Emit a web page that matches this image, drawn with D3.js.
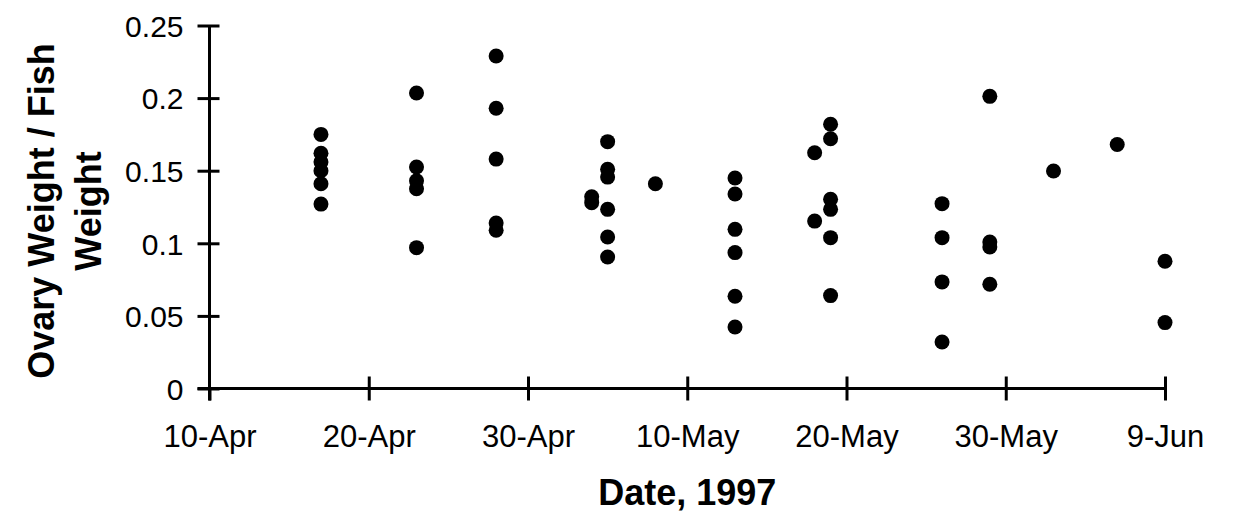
<!DOCTYPE html>
<html>
<head>
<meta charset="utf-8">
<script src="https://cdn.jsdelivr.net/npm/d3@7"></script>
<style>
  html, body { margin: 0; padding: 0; background: #fff; }
  svg { display: block; }
</style>
</head>
<body>
<svg id="chart"></svg>
<script>
// sample dates (1997) and ovary/fish weight ratios, one entry per fish
const sampleDates = [
  '1997-04-17', '1997-04-17', '1997-04-17', '1997-04-17', '1997-04-17', '1997-04-17',
  '1997-04-23', '1997-04-23', '1997-04-23', '1997-04-23', '1997-04-23',
  '1997-04-28', '1997-04-28', '1997-04-28', '1997-04-28', '1997-04-28',
  '1997-05-04', '1997-05-04',
  '1997-05-05', '1997-05-05', '1997-05-05', '1997-05-05', '1997-05-05', '1997-05-05',
  '1997-05-08',
  '1997-05-13', '1997-05-13', '1997-05-13', '1997-05-13', '1997-05-13', '1997-05-13',
  '1997-05-18', '1997-05-18',
  '1997-05-19', '1997-05-19', '1997-05-19', '1997-05-19', '1997-05-19', '1997-05-19',
  '1997-05-26', '1997-05-26', '1997-05-26', '1997-05-26',
  '1997-05-29', '1997-05-29', '1997-05-29', '1997-05-29',
  '1997-06-02',
  '1997-06-06',
  '1997-06-09', '1997-06-09'
];
const ratioValues = [
  0.175, 0.162, 0.156, 0.150, 0.141, 0.127,
  0.2035, 0.1525, 0.143, 0.1376, 0.097,
  0.229, 0.193, 0.158, 0.114, 0.109,
  0.132, 0.128,
  0.170, 0.151, 0.1456, 0.1234, 0.1043, 0.0906,
  0.141,
  0.145, 0.134, 0.1096, 0.0936, 0.0635, 0.0424,
  0.1624, 0.1153,
  0.182, 0.172, 0.1303, 0.1234, 0.1039, 0.064,
  0.1273, 0.1039, 0.0734, 0.032,
  0.2012, 0.1009, 0.0975, 0.0718,
  0.1498,
  0.168,
  0.0876, 0.0454
];
const xTickDates = ['1997-04-10', '1997-04-20', '1997-04-30', '1997-05-10', '1997-05-20', '1997-05-30', '1997-06-09'];
const yTickValues = [0, 0.05, 0.1, 0.15, 0.2, 0.25];

const parse = d3.timeParse('%Y-%m-%d');
const points = sampleDates.map((d, i) => ({ date: parse(d), value: ratioValues[i] }));
const xTicks = xTickDates.map(parse);

const W = 1236, H = 513;
const svg = d3.select('#chart').attr('width', W).attr('height', H);

const x = d3.scaleTime()
  .domain([xTicks[0], xTicks[xTicks.length - 1]])
  .range([209.5, 1165]);
const y = d3.scaleLinear().domain([0, 0.25]).range([388.5, 25.5]);

const font = 'Liberation Sans, Arial, Helvetica, sans-serif';

// y axis
const yAxisG = svg.append('g')
  .attr('transform', `translate(${x.range()[0]},0)`)
  .call(d3.axisLeft(y).tickValues(yTickValues).tickSize(12).tickPadding(0)
    .tickFormat(d => d === 0 ? '0' : String(d)));
yAxisG.select('.domain').remove();
yAxisG.selectAll('.tick line')
  .attr('x1', -12).attr('x2', 10)
  .attr('stroke', '#000').attr('stroke-width', 3);
yAxisG.selectAll('.tick text')
  .attr('x', -26)
  .attr('dy', '0.36em')
  .style('font-family', font)
  .style('font-size', '30px')
  .attr('fill', '#000');

// x axis
const xAxisG = svg.append('g')
  .attr('transform', `translate(0,${y(0)})`)
  .call(d3.axisBottom(x).tickValues(xTicks).tickSize(12).tickPadding(0)
    .tickFormat(d3.timeFormat('%-d-%b')));
xAxisG.select('.domain').remove();
xAxisG.selectAll('.tick line')
  .attr('y1', (d, i) => i === 0 ? 0 : -12).attr('y2', 12)
  .attr('stroke', '#000').attr('stroke-width', 3);
xAxisG.selectAll('.tick text')
  .attr('y', 36)
  .attr('dy', '0.71em')
  .style('font-family', font)
  .style('font-size', '31px')
  .attr('fill', '#000');

// axis lines
svg.append('line')
  .attr('x1', x.range()[0]).attr('x2', x.range()[0])
  .attr('y1', y.range()[1]).attr('y2', y(0) + 12)
  .attr('stroke', '#000').attr('stroke-width', 3);
svg.append('line')
  .attr('x1', x.range()[0] - 12).attr('x2', x.range()[1] + 1.5)
  .attr('y1', y(0)).attr('y2', y(0))
  .attr('stroke', '#000').attr('stroke-width', 3);

// points
svg.append('g').selectAll('circle')
  .data(points)
  .enter()
  .append('circle')
  .attr('cx', d => x(d.date))
  .attr('cy', d => y(d.value))
  .attr('r', 7.5)
  .attr('fill', '#000');

// axis titles
svg.append('text')
  .attr('x', (x.range()[0] + x.range()[1]) / 2)
  .attr('y', 505)
  .attr('text-anchor', 'middle')
  .style('font-family', font)
  .style('font-weight', 'bold')
  .style('font-size', '36px')
  .text('Date, 1997');

const yTitle = svg.append('text')
  .attr('transform', `translate(0,${(y.range()[0] + y.range()[1]) / 2 + 4}) rotate(-90)`)
  .attr('text-anchor', 'middle')
  .style('font-family', font)
  .style('font-weight', 'bold')
  .style('font-size', '36px');
yTitle.append('tspan').attr('x', 0).attr('y', 54).text('Ovary Weight / Fish');
yTitle.append('tspan').attr('x', 0).attr('y', 101).text('Weight');
</script>
</body>
</html>
